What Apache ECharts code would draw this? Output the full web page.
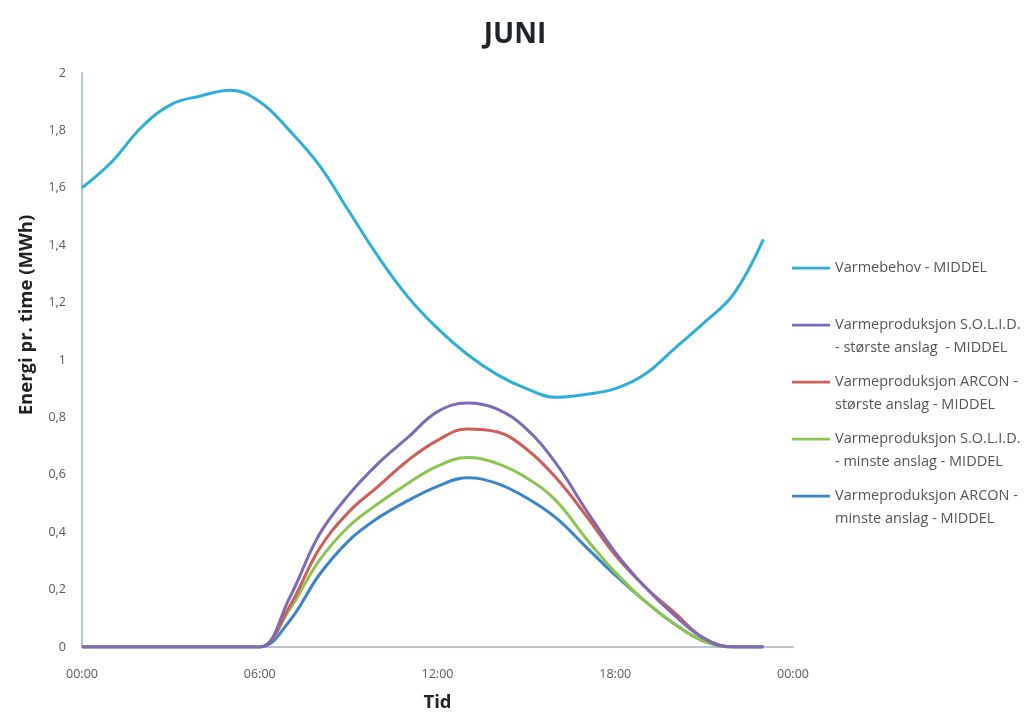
<!DOCTYPE html>
<html>
<head>
<meta charset="utf-8">
<script src="https://cdn.jsdelivr.net/npm/echarts@6/dist/echarts.min.js"></script>
<style>html,body{margin:0;padding:0;background:#fff;}#c{width:1030px;height:713px;}</style>
</head>
<body>
<div id="c"></div>
<script>
const hours = [0,1,2,3,4,5,6,7,8,9,10,11,12,13,14,15,16,17,18,19,20,21,22,23];
const xTickLabels = ['00:00','06:00','12:00','18:00','00:00'];
const seriesNames = [
  'Varmebehov - MIDDEL',
  'Varmeproduksjon S.O.L.I.D. - største anslag - MIDDEL',
  'Varmeproduksjon ARCON - største anslag - MIDDEL',
  'Varmeproduksjon S.O.L.I.D. - minste anslag - MIDDEL',
  'Varmeproduksjon ARCON - minste anslag - MIDDEL'
];
const legendLabels = [
  'Varmebehov - MIDDEL\n ',
  'Varmeproduksjon S.O.L.I.D.\n- største anslag  - MIDDEL',
  'Varmeproduksjon ARCON -\nstørste anslag - MIDDEL',
  'Varmeproduksjon S.O.L.I.D.\n- minste anslag - MIDDEL',
  'Varmeproduksjon ARCON -\nminste anslag - MIDDEL'
];
const varmebehov = [1.60,1.69,1.81,1.89,1.92,1.94,1.90,1.80,1.68,1.52,1.36,1.22,1.11,1.02,0.95,0.90,0.87,0.88,0.90,0.95,1.04,1.13,1.23,1.42];
const solidStorste = [0,0,0,0,0,0,0,0.17,0.39,0.53,0.64,0.73,0.82,0.85,0.83,0.76,0.64,0.48,0.33,0.21,0.11,0.03,0,0];
const arconStorste = [0,0,0,0,0,0,0,0.14,0.34,0.47,0.56,0.65,0.72,0.76,0.75,0.69,0.59,0.46,0.32,0.21,0.12,0.03,0,0];
const solidMinste = [0,0,0,0,0,0,0,0.13,0.30,0.42,0.50,0.57,0.63,0.66,0.64,0.59,0.51,0.38,0.26,0.16,0.08,0.02,0,0];
const arconMinste = [0,0,0,0,0,0,0,0.09,0.25,0.37,0.45,0.51,0.56,0.59,0.57,0.52,0.45,0.35,0.25,0.16,0.08,0.02,0,0];

const seriesValues = [varmebehov, solidStorste, arconStorste, solidMinste, arconMinste];
const colors = ['#2DAFD7','#7D6AB8','#CD5F58','#8CC64F','#3A86CC'];

const chart = echarts.init(document.getElementById('c'));
const iconPath = 'path://M0,10h40v3h-40z M0,0h0.01v0.01h-0.01z M0,46h0.01v0.01h-0.01z';
chart.setOption({
  animation: false,
  title: {
    text: 'JUNI', left: 'center', top: 16,
    textStyle: { fontFamily: 'Open Sans', fontWeight: 'bold', fontSize: 28, color: '#1f2428' }
  },
  legend: {
    orient: 'vertical', left: 787, top: 251,
    itemWidth: 38, itemHeight: 46, itemGap: 11,
    icon: iconPath,
    data: seriesNames,
    formatter: function (name) { return legendLabels[seriesNames.indexOf(name)]; },
    textStyle: { fontFamily: 'Open Sans', fontSize: 14.5, color: '#555', lineHeight: 23 }
  },
  grid: { left: 82, right: 237, top: 73, bottom: 66, containLabel: false, outerBoundsMode: 'none' },
  xAxis: {
    type: 'value', min: 0, max: 24, interval: 6,
    name: 'Tid', nameLocation: 'middle', nameGap: 46,
    nameTextStyle: { fontFamily: 'Open Sans', fontWeight: 'bold', fontSize: 18.5, color: '#222' },
    axisLine: { lineStyle: { color: '#B4C6D6', width: 2 } },
    axisTick: { show: false },
    splitLine: { show: false },
    axisLabel: {
      color: '#5a5a5a', fontFamily: 'Open Sans', fontSize: 12.5, margin: 21,
      formatter: function (v) { return xTickLabels[Math.round(v / 6)]; }
    }
  },
  yAxis: {
    type: 'value', min: 0, max: 2, interval: 0.2,
    name: 'Energi pr. time (MWh)', nameLocation: 'middle', nameGap: 46, nameRotate: 90,
    nameTextStyle: { fontFamily: 'Open Sans', fontWeight: 'bold', fontSize: 18.5, color: '#222', padding: [0, 0, 0, 90] },
    axisLine: { show: true, lineStyle: { color: '#B4C6D6', width: 2 } },
    axisTick: { show: false },
    splitLine: { show: false },
    axisLabel: {
      color: '#5a5a5a', fontFamily: 'Open Sans', fontSize: 12.5, margin: 16,
      formatter: function (v) { return String(+v.toFixed(1)).replace('.', ','); }
    }
  },
  series: seriesNames.map(function (n, i) {
    return {
      name: n, type: 'line', smooth: 0.4, showSymbol: false, symbol: 'none',
      color: colors[i],
      itemStyle: { color: colors[i] },
      lineStyle: { color: colors[i], width: 3 },
      data: hours.map(function (h, k) { return [h, seriesValues[i][k]]; }),
      z: 10 - i
    };
  })
});
</script>
</body>
</html>
